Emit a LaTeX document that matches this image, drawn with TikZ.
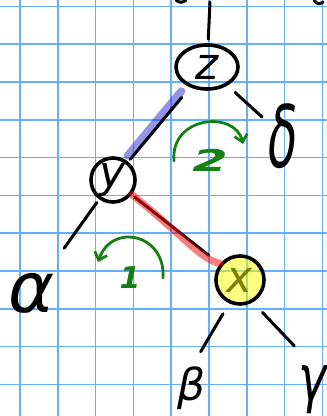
\documentclass[tikz,border=0pt]{standalone}
\usepackage{fontspec}
\newfontfamily\hand{DejaVu Sans}
\usepackage{xcolor}
\usepackage{tikz}
\usetikzlibrary{arrows.meta,positioning,calc,shapes.geometric}
\definecolor{ink}{HTML}{000000}
\definecolor{gridblue}{RGB}{100,175,255}
\definecolor{rot}{RGB}{20,128,20}
\definecolor{hlblue}{RGB}{60,60,210}
\definecolor{hlred}{RGB}{245,20,20}
\definecolor{hlyellow}{RGB}{255,255,0}
\definecolor{olivetext}{RGB}{128,128,0}
\tikzset{
  knot/.style={draw=ink,line width=3.6pt,inner sep=0pt,font=\hand\itshape\fontsize{44}{44}\selectfont},
  sub/.style={inner sep=0pt,text=ink,font=\hand\itshape\fontsize{#1}{#1}\selectfont},
  edge/.style={draw=ink,line width=3pt,line cap=round},
  turn/.style={draw=rot,line width=2.8pt,line cap=round,-{Straight Barb[length=7pt,width=13pt]}},
  turnlabel/.style={text=rot,inner sep=0pt,font=\hand\itshape\bfseries\fontsize{30}{30}\selectfont},
  marker/.style={line width=8pt,line cap=round,opacity=0.55}
}

\begin{document}
\begin{tikzpicture}[x=1pt,y=1pt]
  \useasboundingbox (0,0) rectangle (327,416);
  % squared paper
  \foreach \i in {0,...,8}
    \draw[gridblue,line width=1.6pt] (20+37.8*\i,0) -- (20+37.8*\i,416);
  \foreach \j in {0,...,10}
    \draw[gridblue,line width=1.6pt] (0,409.6-37.8*\j) -- (327,409.6-37.8*\j);

  % tree
  \node[knot,ellipse,minimum width=62pt,minimum height=44pt] (z) at (207,349) {z};
  \node[knot,circle,minimum size=44pt] (y) at (113,236) {y};
  \node[knot,circle,minimum size=48pt,fill=hlyellow,fill opacity=0.5,text=olivetext,text opacity=1] (x) at (240,136) {x};
  \node[sub=70] (alpha) at (32,123) {α};
  \node[sub=86] (delta) at (283,280) {\scalebox{0.56}[1]{δ}};
  \node[sub=44] (beta) at (192,28) {β};
  \node[sub=64] (gamma) at (313,26) {\scalebox{0.75}[1]{γ}};
  \coordinate (up) at (210,414);

  \draw[hlblue,marker,transform canvas={shift={(-3pt,3pt)}},shorten <=9pt,shorten >=4pt] (z) -- (y);
  \draw[edge,shorten >=4pt] (up) -- (z);
  \draw[edge,shorten <=10pt,shorten >=8pt] (z) -- (delta);
  \draw[edge,shorten <=13pt,shorten >=3pt] (z) -- (y);
  \draw[edge,shorten <=4pt,shorten >=30pt] (y) -- (alpha);
  \draw[edge,shorten <=4pt,shorten >=14pt] (y) -- (x);
  \draw[hlred,marker,line width=7pt] (y.-38) .. controls +(-38:60) and +(170:20) .. (x.140);
  \draw[edge,shorten <=12pt,shorten >=17pt] (x.-115) -- (beta.north);
  \draw[edge,shorten <=14pt,shorten >=27pt] (x.-60) -- (gamma.north);

  % rotations
  \coordinate (r2a) at (174,255);
  \coordinate (r2b) at (243,272);
  \coordinate (r1a) at (163,138);
  \coordinate (r1b) at (98,154);
  \draw[turn] (r2a) .. controls (170,300) and (235,306) .. (r2b);
  \draw[turn] (r1a) .. controls (166,182) and (112,194) .. (r1b);
  \node[turnlabel] (two) at (210,256) {\scalebox{1.7}[1]{2}};
  \node[turnlabel] (one) at (130,138) {1};

  % cut-off strokes at the top edge
  \draw[edge] (176,416) .. controls (179,413) and (183,413) .. (186,416);
  \draw[edge] (314,416) .. controls (316,412) and (320,411) .. (323,414);
\end{tikzpicture}
\end{document}
